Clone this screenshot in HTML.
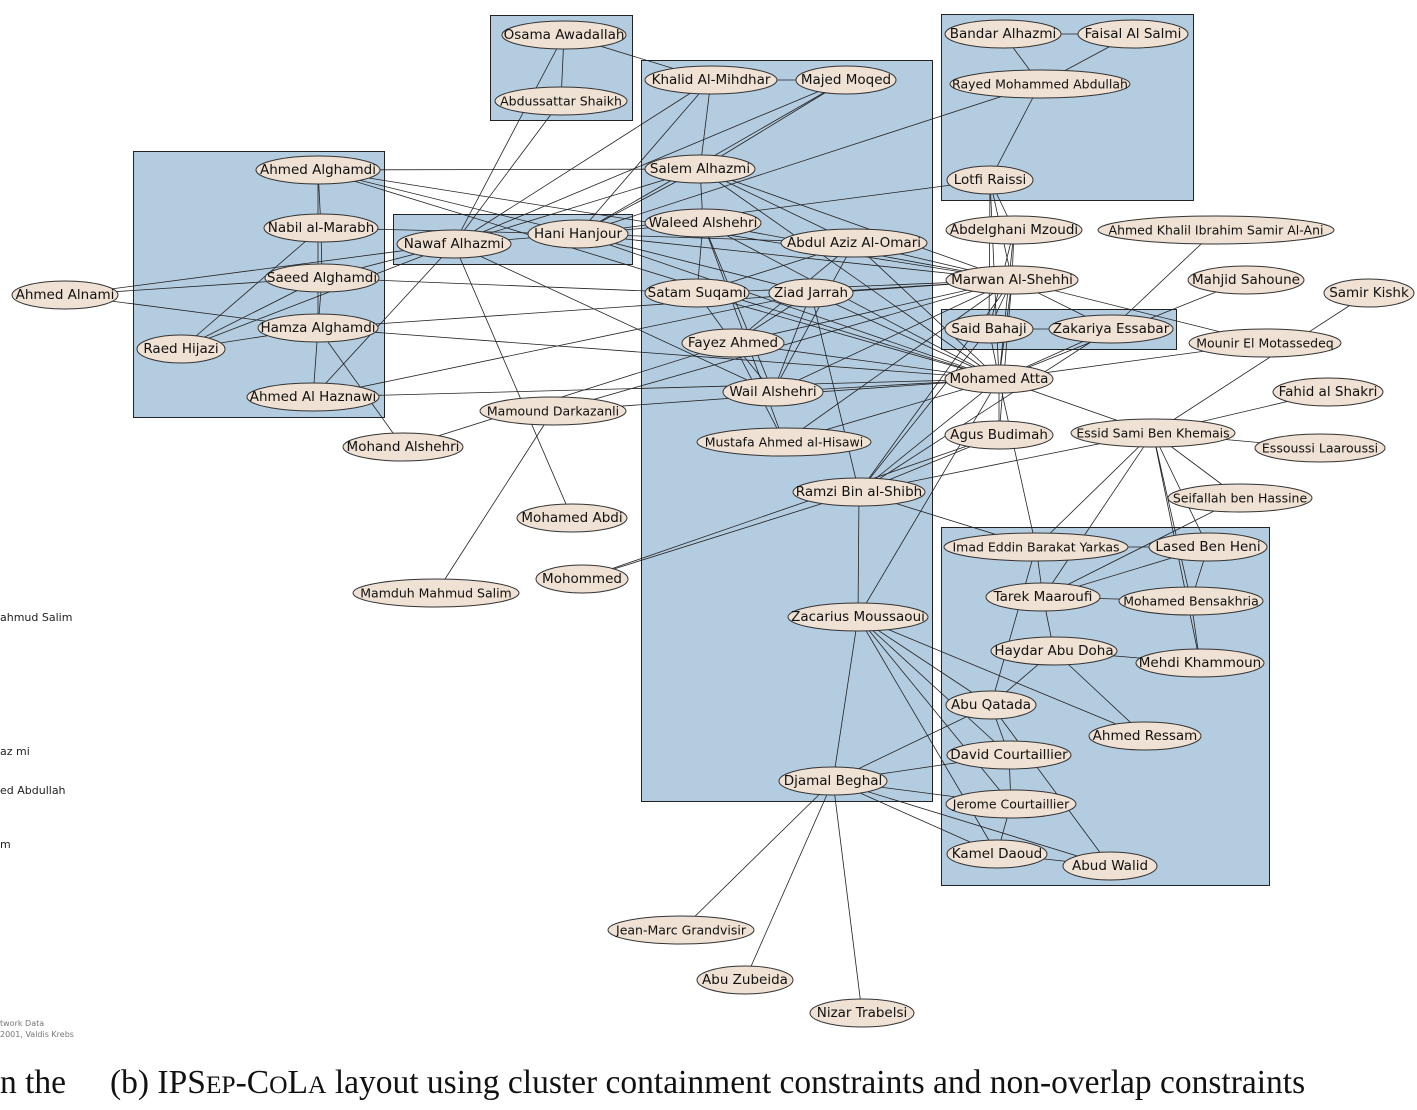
<!DOCTYPE html>
<html><head><meta charset="utf-8"><style>
body{margin:0;background:#fff;width:1417px;height:1110px;overflow:hidden;position:relative}
svg{position:absolute;left:0;top:0}
.n ellipse{fill:#efe1d3;stroke:#333;stroke-width:1}
.n text{font-family:"DejaVu Sans",sans-serif;font-size:13.5px;fill:#111;text-anchor:middle;dominant-baseline:central}
.cap{position:absolute;top:1064px;font-family:"Liberation Serif",serif;font-size:33.5px;color:#111;white-space:nowrap}
.sm{font-size:25.5px}
.lt{position:absolute;left:0;font-family:"DejaVu Sans",sans-serif;font-size:11px;color:#222;white-space:nowrap}
</style></head><body>
<svg id="g" width="1417" height="1110" xmlns="http://www.w3.org/2000/svg">
<g fill="#b4cce0" stroke="#222" stroke-width="1">
<rect x="490.5" y="15.5" width="142" height="105"/>
<rect x="641.5" y="60.5" width="291" height="741"/>
<rect x="941.5" y="14.5" width="252" height="186"/>
<rect x="133.5" y="151.5" width="251" height="266"/>
<rect x="393.5" y="214.5" width="239" height="50"/>
<rect x="941.5" y="309.5" width="235" height="40"/>
<rect x="941.5" y="527.5" width="328" height="358"/>
</g>
<g id="edges" stroke="#222" stroke-width="0.8" fill="none"></g>
<g class="n" id="nodes">
<g><ellipse cx="564" cy="35" rx="62" ry="14"/><text x="564" y="35">Osama Awadallah</text></g>
<g><ellipse cx="561" cy="101" rx="66" ry="14"/><text x="561" y="101" style="font-size:12.5px">Abdussattar Shaikh</text></g>
<g><ellipse cx="711" cy="80" rx="66" ry="14"/><text x="711" y="80">Khalid Al-Mihdhar</text></g>
<g><ellipse cx="846" cy="80" rx="50" ry="14"/><text x="846" y="80">Majed Moqed</text></g>
<g><ellipse cx="1003" cy="34" rx="58" ry="14"/><text x="1003" y="34">Bandar Alhazmi</text></g>
<g><ellipse cx="1133" cy="34" rx="55" ry="14"/><text x="1133" y="34">Faisal Al Salmi</text></g>
<g><ellipse cx="1040" cy="84" rx="90" ry="14"/><text x="1040" y="84" style="font-size:12.5px">Rayed Mohammed Abdullah</text></g>
<g><ellipse cx="990" cy="180" rx="43" ry="14"/><text x="990" y="180">Lotfi Raissi</text></g>
<g><ellipse cx="318" cy="170" rx="62" ry="14"/><text x="318" y="170">Ahmed Alghamdi</text></g>
<g><ellipse cx="321" cy="228" rx="57" ry="14"/><text x="321" y="228">Nabil al-Marabh</text></g>
<g><ellipse cx="322" cy="278" rx="57" ry="14"/><text x="322" y="278">Saeed Alghamdi</text></g>
<g><ellipse cx="318" cy="328" rx="60" ry="14"/><text x="318" y="328">Hamza Alghamdi</text></g>
<g><ellipse cx="313" cy="397" rx="66" ry="14"/><text x="313" y="397">Ahmed Al Haznawi</text></g>
<g><ellipse cx="65" cy="295" rx="53" ry="14"/><text x="65" y="295">Ahmed Alnami</text></g>
<g><ellipse cx="181" cy="349" rx="44" ry="14"/><text x="181" y="349">Raed Hijazi</text></g>
<g><ellipse cx="454" cy="244" rx="57" ry="14"/><text x="454" y="244">Nawaf Alhazmi</text></g>
<g><ellipse cx="578" cy="234" rx="50" ry="14"/><text x="578" y="234">Hani Hanjour</text></g>
<g><ellipse cx="700" cy="169" rx="55" ry="14"/><text x="700" y="169">Salem Alhazmi</text></g>
<g><ellipse cx="703" cy="223" rx="58" ry="14"/><text x="703" y="223">Waleed Alshehri</text></g>
<g><ellipse cx="854" cy="243" rx="73" ry="14"/><text x="854" y="243">Abdul Aziz Al-Omari</text></g>
<g><ellipse cx="697" cy="293" rx="52" ry="14"/><text x="697" y="293">Satam Suqami</text></g>
<g><ellipse cx="811" cy="293" rx="42" ry="14"/><text x="811" y="293">Ziad Jarrah</text></g>
<g><ellipse cx="733" cy="343" rx="51" ry="14"/><text x="733" y="343">Fayez Ahmed</text></g>
<g><ellipse cx="773" cy="392" rx="50" ry="14"/><text x="773" y="392">Wail Alshehri</text></g>
<g><ellipse cx="784" cy="442" rx="87" ry="14"/><text x="784" y="442" style="font-size:12.5px">Mustafa Ahmed al-Hisawi</text></g>
<g><ellipse cx="859" cy="492" rx="66" ry="14"/><text x="859" y="492">Ramzi Bin al-Shibh</text></g>
<g><ellipse cx="553" cy="411" rx="73" ry="14"/><text x="553" y="411" style="font-size:12.5px">Mamound Darkazanli</text></g>
<g><ellipse cx="403" cy="447" rx="60" ry="14"/><text x="403" y="447">Mohand Alshehri</text></g>
<g><ellipse cx="572" cy="518" rx="55" ry="14"/><text x="572" y="518">Mohamed Abdi</text></g>
<g><ellipse cx="582" cy="579" rx="46" ry="14"/><text x="582" y="579">Mohommed</text></g>
<g><ellipse cx="436" cy="593" rx="83" ry="14"/><text x="436" y="593" style="font-size:12.5px">Mamduh Mahmud Salim</text></g>
<g><ellipse cx="858" cy="617" rx="70" ry="14"/><text x="858" y="617">Zacarius Moussaoui</text></g>
<g><ellipse cx="833" cy="781" rx="54" ry="14"/><text x="833" y="781">Djamal Beghal</text></g>
<g><ellipse cx="681" cy="930" rx="73" ry="14"/><text x="681" y="930" style="font-size:12.5px">Jean-Marc Grandvisir</text></g>
<g><ellipse cx="745" cy="980" rx="48" ry="14"/><text x="745" y="980">Abu Zubeida</text></g>
<g><ellipse cx="862" cy="1013" rx="52" ry="14"/><text x="862" y="1013">Nizar Trabelsi</text></g>
<g><ellipse cx="1014" cy="230" rx="68" ry="14"/><text x="1014" y="230">Abdelghani Mzoudi</text></g>
<g><ellipse cx="1216" cy="230" rx="118" ry="14"/><text x="1216" y="230" style="font-size:12.5px">Ahmed Khalil Ibrahim Samir Al-Ani</text></g>
<g><ellipse cx="1012" cy="280" rx="66" ry="14"/><text x="1012" y="280">Marwan Al-Shehhi</text></g>
<g><ellipse cx="1246" cy="280" rx="58" ry="14"/><text x="1246" y="280">Mahjid Sahoune</text></g>
<g><ellipse cx="1369" cy="293" rx="45" ry="14"/><text x="1369" y="293">Samir Kishk</text></g>
<g><ellipse cx="989" cy="329" rx="44" ry="14"/><text x="989" y="329">Said Bahaji</text></g>
<g><ellipse cx="1111" cy="329" rx="62" ry="14"/><text x="1111" y="329">Zakariya Essabar</text></g>
<g><ellipse cx="1265" cy="343" rx="76" ry="14"/><text x="1265" y="343" style="font-size:12.5px">Mounir El Motassedeq</text></g>
<g><ellipse cx="999" cy="379" rx="54" ry="14"/><text x="999" y="379">Mohamed Atta</text></g>
<g><ellipse cx="1328" cy="392" rx="55" ry="14"/><text x="1328" y="392">Fahid al Shakri</text></g>
<g><ellipse cx="999" cy="435" rx="54" ry="14"/><text x="999" y="435">Agus Budimah</text></g>
<g><ellipse cx="1153" cy="433" rx="82" ry="14"/><text x="1153" y="433" style="font-size:12.5px">Essid Sami Ben Khemais</text></g>
<g><ellipse cx="1320" cy="448" rx="65" ry="14"/><text x="1320" y="448" style="font-size:12.5px">Essoussi Laaroussi</text></g>
<g><ellipse cx="1240" cy="498" rx="72" ry="14"/><text x="1240" y="498" style="font-size:12.5px">Seifallah ben Hassine</text></g>
<g><ellipse cx="1036" cy="547" rx="92" ry="14"/><text x="1036" y="547" style="font-size:12.5px">Imad Eddin Barakat Yarkas</text></g>
<g><ellipse cx="1208" cy="547" rx="59" ry="14"/><text x="1208" y="547">Lased Ben Heni</text></g>
<g><ellipse cx="1043" cy="597" rx="57" ry="14"/><text x="1043" y="597">Tarek Maaroufi</text></g>
<g><ellipse cx="1191" cy="601" rx="72" ry="14"/><text x="1191" y="601" style="font-size:12.5px">Mohamed Bensakhria</text></g>
<g><ellipse cx="1054" cy="651" rx="63" ry="14"/><text x="1054" y="651">Haydar Abu Doha</text></g>
<g><ellipse cx="1200" cy="663" rx="64" ry="14"/><text x="1200" y="663">Mehdi Khammoun</text></g>
<g><ellipse cx="991" cy="705" rx="45" ry="14"/><text x="991" y="705">Abu Qatada</text></g>
<g><ellipse cx="1145" cy="736" rx="56" ry="14"/><text x="1145" y="736">Ahmed Ressam</text></g>
<g><ellipse cx="1009" cy="755" rx="62" ry="14"/><text x="1009" y="755">David Courtaillier</text></g>
<g><ellipse cx="1011" cy="804" rx="65" ry="14"/><text x="1011" y="804" style="font-size:12.5px">Jerome Courtaillier</text></g>
<g><ellipse cx="997" cy="854" rx="50" ry="14"/><text x="997" y="854">Kamel Daoud</text></g>
<g><ellipse cx="1110" cy="866" rx="47" ry="14"/><text x="1110" y="866">Abud Walid</text></g>
</g>
</svg>
<div class="lt" style="top:611px">ahmud Salim</div>
<div class="lt" style="top:745px">az mi</div>
<div class="lt" style="top:784px">ed Abdullah</div>
<div class="lt" style="top:838px">m</div>
<div class="lt" style="top:1019px;font-size:8px;color:#777">twork Data</div>
<div class="lt" style="top:1030px;font-size:8px;color:#777">2001, Valdis Krebs</div>
<div class="cap" style="left:0">n the</div>
<div class="cap" style="left:110px">(b) IPS<span class="sm">EP</span>-C<span class="sm">O</span>L<span class="sm">A</span> layout using cluster containment constraints and non-overlap constraints</div>
<script>
var P={OS:[564,35],AB:[561,101],KH:[711,80],MM:[846,80],BA:[1003,34],FS:[1133,34],RA:[1040,84],LR:[990,180],AA:[318,170],NM:[321,228],SA:[322,278],HA:[318,328],HZ:[313,397],AN:[65,295],RH:[181,349],NA:[454,244],HH:[578,234],SL:[700,169],WA:[703,223],OM:[854,243],SS:[697,293],ZJ:[811,293],FA:[733,343],WL:[773,392],MH:[784,442],RB:[859,492],MD:[553,411],MO:[403,447],MA:[572,518],MOH:[582,579],MS:[436,593],ZM:[858,617],DB:[833,781],JG:[681,930],AZ:[745,980],NT:[862,1013],AM:[1014,230],AK:[1216,230],MW:[1012,280],MJ:[1246,280],SK:[1369,293],SB:[989,329],ZE:[1111,329],ME:[1265,343],AT:[999,379],FH:[1328,392],AG:[999,435],ES:[1153,433],EL:[1320,448],SF:[1240,498],IM:[1036,547],LB:[1208,547],TM:[1043,597],BS:[1191,601],HD:[1054,651],MK:[1200,663],AQ:[991,705],AR:[1145,736],DC:[1009,755],JC:[1011,804],KD:[997,854],AW:[1110,866]};
var E="OS-AB OS-KH OS-NA AB-NA KH-MM KH-SL KH-NA KH-HH MM-HH MM-NA MM-SL BA-RA FS-RA BA-FS RA-LR RA-HH LR-HH LR-MW LR-AT AA-NM AA-HA AA-SL AA-HH AA-MW AA-AT NM-SA NM-HH NM-RH SA-AN SA-HA SA-NA SA-SS SA-RH HA-AN HA-HZ HA-MO HA-RH HA-MW HA-AT AN-NA HZ-NA HZ-ZJ HZ-AT RH-NA NA-HH NA-SL NA-MA NA-WL HH-SL HH-WA HH-ZJ HH-MW HH-AT HH-OM SL-OM SL-MW SL-AT SL-WA WA-SS WA-WL WA-AT WA-MW WA-MH OM-AT OM-MW OM-SS OM-FA OM-WL SS-FA SS-AT SS-MW ZJ-AT ZJ-MW ZJ-RB ZJ-WL ZJ-FA FA-WL FA-MH FA-MW FA-AT WL-AT WL-MW MH-AT MH-MW MD-MW MD-AT MD-MS MO-FA RB-AT RB-MW RB-SB RB-ZE RB-ZM RB-MOH RB-IM RB-ES RB-AG ZM-AT ZM-DB ZM-AQ ZM-DC ZM-JC ZM-KD ZM-AR DB-JG DB-AZ DB-NT DB-JC DB-KD DB-AQ DB-DC DB-AW AM-AT AM-MW AM-SB MW-AT MW-SB MW-ZE MW-ME MW-AG SB-AT SB-ZE ZE-AT AT-ME AT-ES AT-AG AT-IM MJ-AT SK-ES FH-ES ES-EL ES-SF ES-LB ES-TM ES-BS ES-MK ES-IM SF-TM IM-TM IM-LB IM-AQ TM-BS TM-HD TM-LB LB-BS BS-MK HD-MK HD-AQ HD-AR AQ-DC AQ-AW DC-JC JC-KD KD-AW LR-AM LR-SB AK-ZE MOH-AG".split(" ");
var g=document.getElementById("edges"),s="";
E.forEach(function(e){var a=e.split("-"),p=P[a[0]],q=P[a[1]];if(p&&q)s+='<line x1="'+p[0]+'" y1="'+p[1]+'" x2="'+q[0]+'" y2="'+q[1]+'"/>';});
g.innerHTML=s;
</script>
</body></html>
